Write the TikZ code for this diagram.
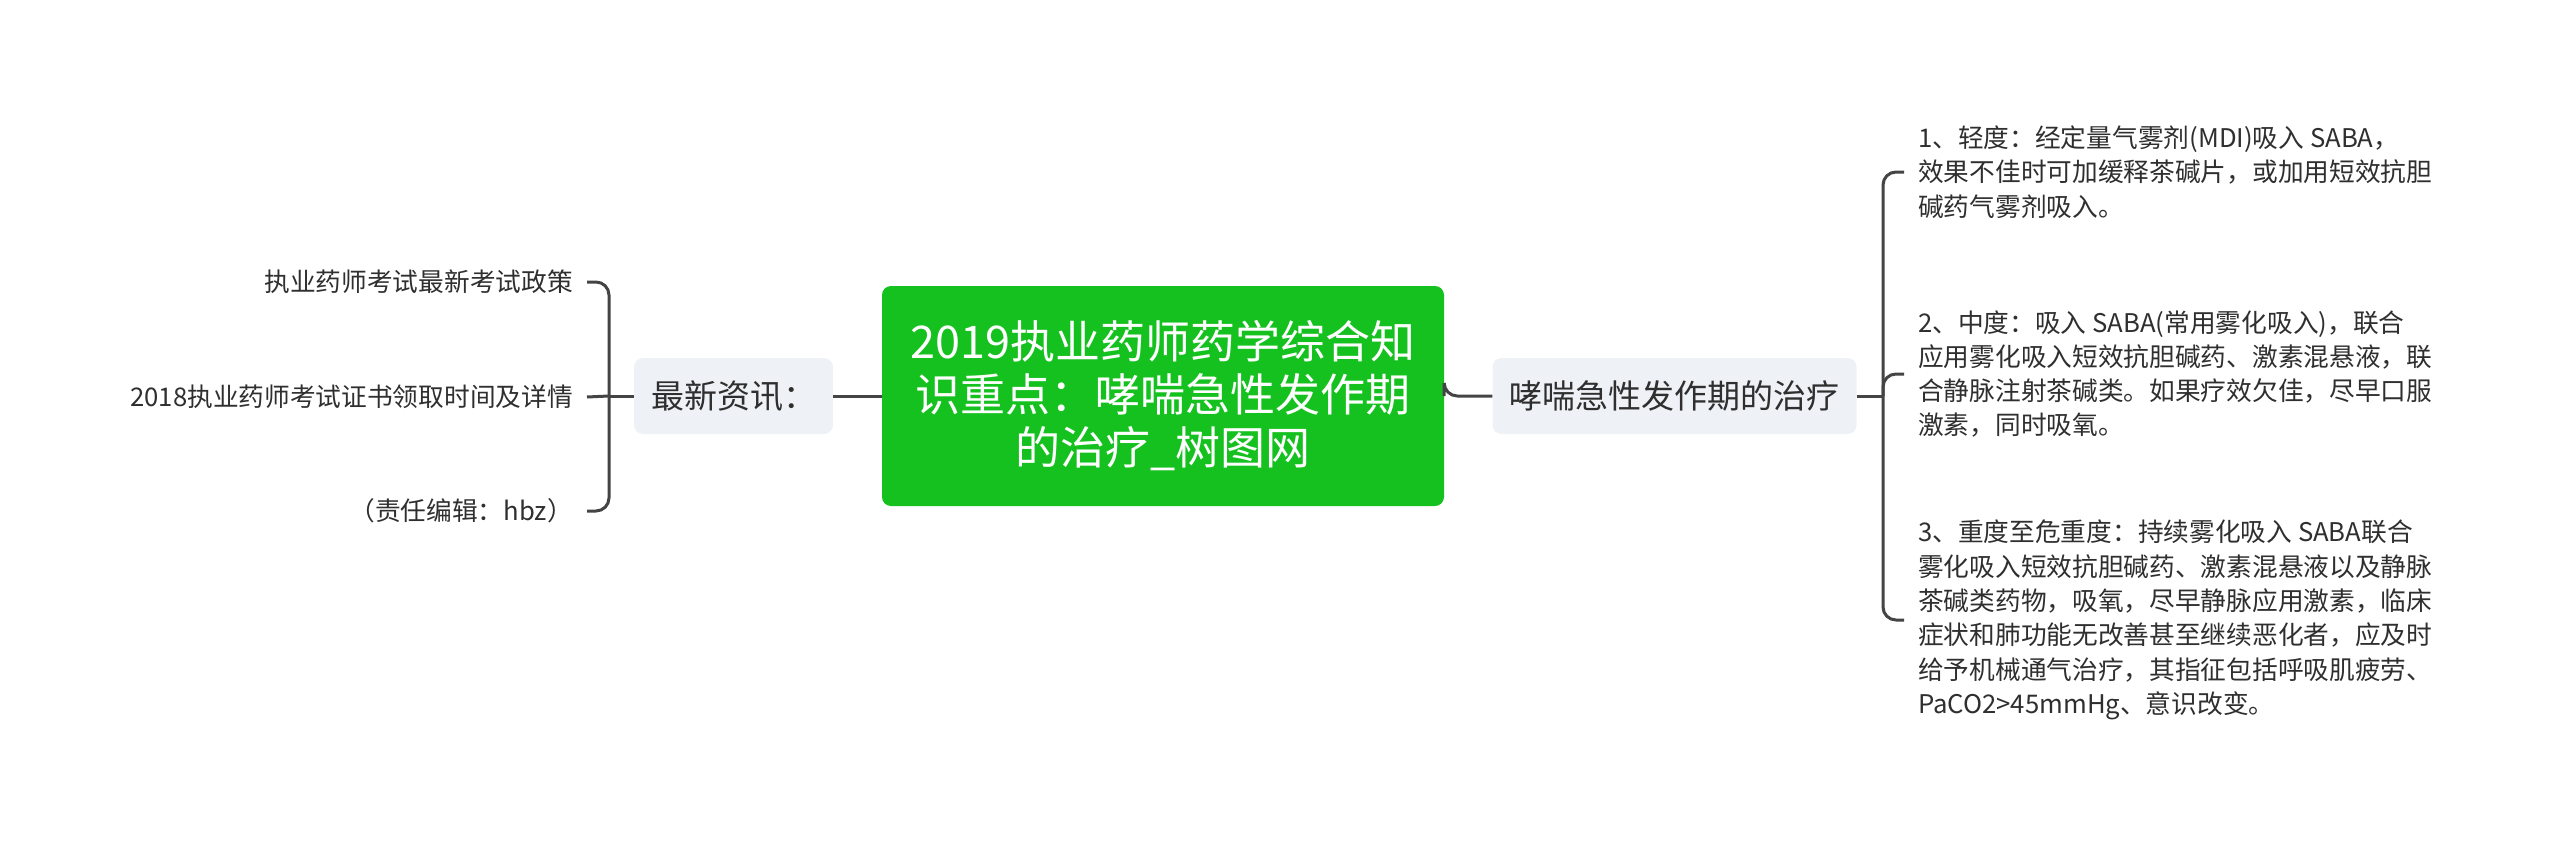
\documentclass[tikz,border=0pt]{standalone}
\usepackage{fontspec}
\setmainfont{Noto Sans CJK SC}
\definecolor{cgreen}{HTML}{15C11F}
\definecolor{cgray}{HTML}{EEF1F5}
\definecolor{lc}{HTML}{444444}
\definecolor{tc}{HTML}{2F2F2F}
\begin{document}
\begin{tikzpicture}[x=1pt,y=-1pt,
  conn/.style={draw=lc, line width=3pt, rounded corners=13pt},
  root/.style={fill=cgreen, rounded corners=9pt, text=white, align=center,
    font=\fontsize{45}{53}\selectfont, minimum width=562pt, minimum height=220pt, inner sep=0pt},
  topic/.style={fill=cgray, rounded corners=9pt, text=tc,
    font=\fontsize{33}{40}\selectfont, minimum height=76pt, inner xsep=17pt, inner ysep=0pt},
  leaf/.style={text=tc, font=\fontsize{25.7}{34.3}\selectfont, inner xsep=14pt, inner ysep=0pt},
  rleaf/.style={leaf, align=left, anchor=west},
  lleaf/.style={leaf, align=right, anchor=east}]
\useasboundingbox[fill=white] (0,0) rectangle (2560,843);

\node[root] (c) at (1163,396) {2019执业药师药学综合知\\识重点：哮喘急性发作期\\的治疗\_树图网};
\node[topic] (l) at (733.5,396) {最新资讯：};
\node[topic] (r) at (1674.5,396) {哮喘急性发作期的治疗};

\coordinate (lj) at (609,396);
\coordinate (rj) at (1883,396);

\node[lleaf] (l1) at (587,282) {执业药师考试最新考试政策};
\node[lleaf] (l2) at (587,397) {2018执业药师考试证书领取时间及详情};
\node[lleaf] (l3) at (587,511) {（责任编辑：hbz）};

\node[rleaf] (r1) at (1904,172) {1、轻度：经定量气雾剂(MDI)吸入 SABA，\\效果不佳时可加缓释茶碱片，或加用短效抗胆\\碱药气雾剂吸入。};
\node[rleaf] (r2) at (1904,374) {2、中度：吸入 SABA(常用雾化吸入)，联合\\应用雾化吸入短效抗胆碱药、激素混悬液，联\\合静脉注射茶碱类。如果疗效欠佳，尽早口服\\激素，同时吸氧。};
\node[rleaf] (r3) at (1904,620) {3、重度至危重度：持续雾化吸入 SABA联合\\雾化吸入短效抗胆碱药、激素混悬液以及静脉\\茶碱类药物，吸氧，尽早静脉应用激素，临床\\症状和肺功能无改善甚至继续恶化者，应及时\\给予机械通气治疗，其指征包括呼吸肌疲劳、\\PaCO2>45mmHg、意识改变。};

\draw[conn] (l.east) -- (c.west);
\draw[conn] (c.east) -- (r.east -| c.east) -- (r.west);
\draw[conn] (l.west) -- (lj);
\draw[conn] (lj) |- (l1.east);
\draw[conn] (lj) -- (l2.east);
\draw[conn] (lj) |- (l3.east);
\draw[conn] (r.east) -- (rj);
\draw[conn] (rj) |- (r1.west);
\draw[conn] (rj) |- (r2.west);
\draw[conn] (rj) |- (r3.west);
\end{tikzpicture}
\end{document}
